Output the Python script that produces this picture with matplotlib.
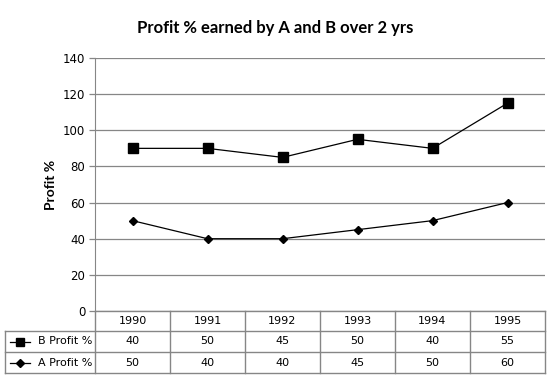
import numpy as np
import matplotlib.pyplot as plt
from matplotlib.lines import Line2D

years = ['1990', '1991', '1992', '1993', '1994', '1995']
b_profit = [40, 50, 45, 50, 40, 55]
a_profit = [50, 40, 40, 45, 50, 60]

W, H = 557, 384
fig = plt.figure(figsize=(W / 100, H / 100), dpi=100)

def fx(px):
    return px / W

def fy(py):
    return 1 - py / H

grid_c = '#868686'
txt_font = 'DejaVu Sans'
head_font = 'Lato'

# main plot area (stacked lines like excel)
ax = fig.add_axes([fx(95), fy(311), fx(545) - fx(95), fy(58) - fy(311)])
x = np.arange(len(years))
a = np.array(a_profit)
b_stack = a + np.array(b_profit)
ax.plot(x, b_stack, color='black', lw=0.9, marker='s', ms=7, zorder=4)
ax.plot(x, a, color='black', lw=0.9, marker='D', ms=4.5, zorder=4)
ax.set_xlim(-0.5, len(years) - 0.5)
ax.set_ylim(0, 140)
ax.set_yticks(range(0, 141, 20))
ax.yaxis.grid(True, color=grid_c, lw=0.9)
ax.set_axisbelow(True)
ax.set_xticks([])
for s in ['top', 'right', 'bottom']:
    ax.spines[s].set_visible(False)
ax.spines['left'].set_color(grid_c)
ax.tick_params(axis='y', colors=grid_c, length=4, width=0.9, labelsize=8.5,
               labelcolor='black', pad=3)
for lab in ax.get_yticklabels():
    lab.set_fontfamily(txt_font)
ax.set_ylabel('Profit %', fontsize=10, fontweight='bold', family=head_font,
              labelpad=4)

fig.text(fx(275), fy(28), 'Profit % earned by A and B over 2 yrs',
         ha='center', va='center', fontsize=12, fontweight='bold',
         family=head_font)

# data table below
tax = fig.add_axes([0, 0, 1, 1])
tax.set_xlim(0, W)
tax.set_ylim(H, 0)
tax.axis('off')

x0, x1 = 95, 545
left = 5
rows_y = [311, 331, 352, 373]
col_w = (x1 - x0) / len(years)
lc = grid_c
lw = 1.0
# horizontal lines
tax.plot([x0, x1], [rows_y[0]] * 2, color=lc, lw=lw)
for yy in rows_y[1:]:
    tax.plot([left, x1], [yy] * 2, color=lc, lw=lw)
# vertical lines
for k in range(len(years) + 1):
    xx = x0 + k * col_w
    tax.plot([xx, xx], [rows_y[0], rows_y[3]], color=lc, lw=lw)
tax.plot([left, left], [rows_y[1], rows_y[3]], color=lc, lw=lw)

for k, yr in enumerate(years):
    cx = x0 + (k + 0.5) * col_w
    tax.text(cx, (rows_y[0] + rows_y[1]) / 2, yr, ha='center', va='center',
             fontsize=8, family=txt_font)
    tax.text(cx, (rows_y[1] + rows_y[2]) / 2, str(b_profit[k]), ha='center',
             va='center', fontsize=8, family=txt_font)
    tax.text(cx, (rows_y[2] + rows_y[3]) / 2, str(a_profit[k]), ha='center',
             va='center', fontsize=8, family=txt_font)

for name, mk, ms, ri in [('B Profit %', 's', 6, 1), ('A Profit %', 'D', 4, 2)]:
    cy = (rows_y[ri] + rows_y[ri + 1]) / 2
    tax.add_line(Line2D([10, 30], [cy, cy], color='black', lw=0.9))
    tax.plot([20], [cy], marker=mk, ms=ms, color='black')
    tax.text(38, cy, name, ha='left', va='center', fontsize=8, family=txt_font)

fig.savefig('out.png', dpi=100)
